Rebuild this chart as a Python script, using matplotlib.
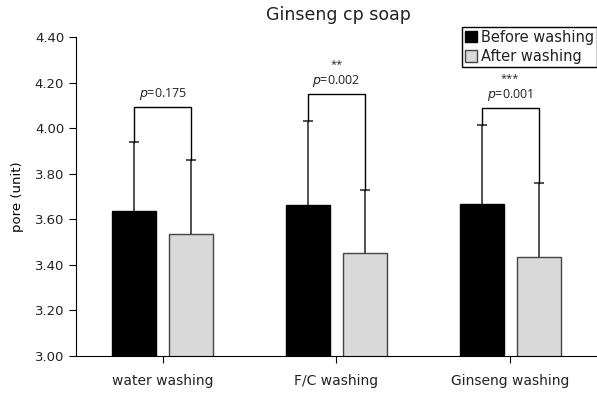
import numpy as np
import matplotlib
matplotlib.use("Agg")
import matplotlib.pyplot as plt
from matplotlib.patches import Patch

plt.rcParams["font.family"] = ["DejaVu Sans"]
plt.rcParams["text.color"] = "#222222"
plt.rcParams["xtick.labelcolor"] = "#222222"
plt.rcParams["ytick.labelcolor"] = "#222222"

# dados
grupos = ["water washing", "F/C washing", "Ginseng washing"]
antes = [3.638, 3.664, 3.669]
antes_dp = [0.30, 0.366, 0.343]
depois = [3.536, 3.45, 3.435]
depois_dp = [0.324, 0.28, 0.324]
p_valores = ["0.175", "0.002", "0.001"]
estrelas = ["", "**", "***"]
altura_colchete = [4.093, 4.151, 4.09]

x = np.arange(len(grupos))
largura = 0.253
desloc = 0.164

fig = plt.figure(figsize=(5.97, 3.94), dpi=100)
ax = fig.add_axes([0.1273, 0.0964, 0.8727, 0.8096])

ax.bar(x - desloc, antes, largura, color="black", edgecolor="black", zorder=2)
ax.bar(x + desloc, depois, largura, color="#d9d9d9", edgecolor="#444444",
       linewidth=1.0, zorder=2)

# barras de erro so para cima
for pos, media, dp in [(x - desloc, antes, antes_dp), (x + desloc, depois, depois_dp)]:
    _, caps, _ = ax.errorbar(pos, media, yerr=[np.zeros(3), dp], fmt="none",
                             ecolor="#333333", elinewidth=1.2, capsize=3.5,
                             capthick=1.2, zorder=3)
    caps[0].set_visible(False)

# colchetes de significancia
for i in range(len(grupos)):
    xa = x[i] - desloc
    xb = x[i] + desloc
    ya = antes[i] + antes_dp[i]
    yb = depois[i] + depois_dp[i]
    h = altura_colchete[i]
    ax.plot([xa, xa, xb, xb], [ya, h, h, yb], color="black", lw=1.0, zorder=3)
    ax.text(x[i], h + 0.02, "$p$=" + p_valores[i], ha="center", va="bottom",
            fontsize=9, family="Open Sans")
    if estrelas[i]:
        ax.text(x[i], h + 0.105, estrelas[i], ha="center", va="bottom",
                fontsize=8, family="Open Sans")

ax.set_xlim(-0.5, 2.5)
ax.set_ylim(3.0, 4.4)
ticks_y = np.arange(3.0, 4.41, 0.2)
ax.set_yticks(ticks_y)
ax.set_yticklabels([f"{v:.2f}" for v in ticks_y])
ax.set_xticks(x)
ax.set_xticklabels(grupos)
ax.tick_params(axis="y", labelsize=9.5, length=5, direction="out")
ax.tick_params(axis="x", labelsize=10, length=5, direction="out", pad=8)
ax.spines["top"].set_visible(False)
ax.spines["right"].set_visible(False)
ax.set_ylabel("pore (unit)", fontsize=9.5, labelpad=8)

fig.text(0.567, 0.962, "Ginseng cp soap", ha="center", va="center", fontsize=12.5)

handles = [Patch(facecolor="black", edgecolor="black"),
           Patch(facecolor="#d9d9d9", edgecolor="#444444")]
leg = fig.legend(handles, ["Before washing", "After washing"],
                 loc="upper right", bbox_to_anchor=(1.0, 1 - 26.7 / 394),
                 borderaxespad=0, fontsize=10.5, handlelength=0.8,
                 handleheight=0.8, handletextpad=0.3, labelspacing=0.3,
                 borderpad=0.2, fancybox=False, framealpha=1)
leg.get_frame().set_edgecolor("black")
leg.get_frame().set_linewidth(1.0)

plt.savefig("out.png", dpi=100)
